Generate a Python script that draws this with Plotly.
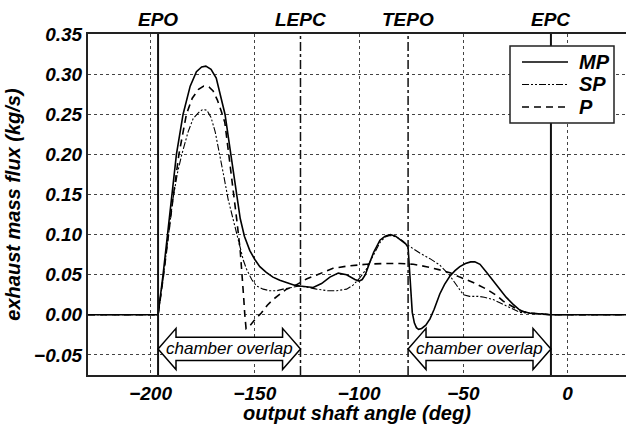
import plotly.graph_objects as go

# Event angles (deg) and their labels
event_names = ["EPO", "LEPC", "TEPO", "EPC"]
event_angles = [-196.4, -128.1, -76.5, -8.0]
event_dash = ["solid", "dashdot", "dashdot", "solid"]
event_width = [2.0, 1.5, 1.5, 2.0]

# Exhaust mass flux, MP configuration
mp_angle = [-230, -196.4, -194, -192, -190, -187.6, -184.4, -181, -178, -175.5, -173.5,
            -171, -168.5, -166.5, -164.3, -161.5, -159, -157, -155, -152.4, -150, -147.6,
            -144.5, -141.3, -138, -134.8, -131, -128.5, -125, -122, -118, -114, -110, -106,
            -102, -100, -98.5, -97, -95.5, -93, -90, -87.5, -85, -82.5, -80, -77.5, -76.5,
            -76, -75.4, -74.5, -73.5, -72.5, -71.5, -70, -68, -66, -64, -61.3, -59, -56.5,
            -54, -51.7, -49, -46.5, -44.5, -42, -38.9, -35.5, -32.5, -29.5, -26.1, -23.5,
            -21.3, -18, -12, -8, 28]
mp_flux = [0, 0, 0.050, 0.095, 0.144, 0.200, 0.250, 0.285, 0.303, 0.309, 0.310,
           0.306, 0.295, 0.275, 0.250, 0.200, 0.155, 0.120, 0.098, 0.080, 0.069, 0.060,
           0.053, 0.047, 0.043, 0.040, 0.037, 0.036, 0.035, 0.034, 0.039, 0.047, 0.052, 0.050,
           0.044, 0.042, 0.044, 0.050, 0.061, 0.078, 0.093, 0.098, 0.100, 0.098, 0.093, 0.088, 0.084,
           0.060, 0.030, 0.003, -0.010, -0.016, -0.018, -0.017, -0.013, -0.005, 0.007, 0.026, 0.038, 0.048,
           0.055, 0.060, 0.064, 0.066, 0.066, 0.063, 0.053, 0.042, 0.032, 0.022, 0.013, 0.007,
           0.004, 0.002, 0.001, 0.0, 0]

# Exhaust mass flux, SP configuration
sp_angle = [-230, -196.4, -194, -191.5, -189.3, -187, -185, -182, -179.5, -177, -175, -173,
            -171, -169, -166.8, -164.8, -162.8, -160, -157.2, -155.5, -154, -151.5, -149.2,
            -146, -142.8, -139.5, -136.5, -132, -128.5, -124, -120.4, -115, -110.8, -106,
            -102.9, -100, -96.5, -93, -90, -87.5, -85.2, -82, -79, -77.3, -74, -70.9, -66,
            -61.3, -56.8, -53, -50, -47, -43, -40, -35.7, -32.5, -29.3, -26, -22.9, -18, -12,
            -8, 28]
sp_flux = [0, 0, 0.045, 0.100, 0.144, 0.178, 0.200, 0.228, 0.245, 0.252, 0.256, 0.255,
           0.246, 0.228, 0.200, 0.172, 0.144, 0.115, 0.086, 0.068, 0.057, 0.044, 0.036,
           0.032, 0.030, 0.030, 0.032, 0.034, 0.036, 0.034, 0.032, 0.030, 0.030, 0.032,
           0.037, 0.045, 0.057, 0.075, 0.090, 0.097, 0.099, 0.097, 0.092, 0.088, 0.082, 0.077, 0.070,
           0.062, 0.050, 0.036, 0.025, 0.023, 0.023, 0.022, 0.019, 0.015, 0.011, 0.006, 0.003, 0.002, 0.0015,
           0, 0]

# Exhaust mass flux, P configuration
p_angle = [-230, -196.4, -194, -192, -189.3, -186.4, -182.8, -180, -177, -174.5, -172, -170,
           -168, -166, -164.4, -162.5, -160, -158.5, -157, -156, -155.3, -154.8, -154.2,
           -152.5, -150, -147, -144, -141.3, -138, -134.8, -131, -128.5, -125, -120, -112.5,
           -105, -96.5, -88, -80.5, -74, -67.7, -61.3, -56, -51.7, -45, -38.9, -34, -30.9,
           -26, -22.9, -18, -12, -8, 28]
p_flux = [0, 0, 0.045, 0.090, 0.144, 0.200, 0.250, 0.270, 0.281, 0.285, 0.284, 0.279,
          0.268, 0.253, 0.240, 0.200, 0.150, 0.115, 0.080, 0.050, 0.020, 0.000, -0.017,
          -0.014, -0.006, 0.002, 0.012, 0.019, 0.026, 0.032, 0.036, 0.040, 0.045, 0.050, 0.058,
          0.061, 0.063, 0.064, 0.064, 0.063, 0.060, 0.056, 0.052, 0.047, 0.040, 0.032, 0.024, 0.017,
          0.009, 0.005, 0.002, 0.001, 0, 0]

x_ticks = [-200, -150, -100, -50, 0]
x_range = [-230, 28]
y_range = [-0.075, 0.35]

# Chamber overlap spans (between event indices)
overlap_spans = [(0, 1), (2, 3)]
overlap_text = "chamber overlap"

FONT = "Liberation Sans"
bi = dict(family=FONT, color="black", weight="bold", style="italic")

series = [
    ("MP", mp_angle, mp_flux, dict(color="black", width=1.6, dash="solid")),
    ("SP", sp_angle, sp_flux, dict(color="black", width=1.1, dash="7px,2px,2px,2px,2px,2px")),
    ("P", p_angle, p_flux, dict(color="black", width=1.6, dash="7px,5px")),
]

fig = go.Figure()
for name, xs, ys, ln in series:
    fig.add_trace(go.Scatter(x=xs, y=ys, name=name, mode="lines", line=ln,
                             showlegend=False))

# Event marker lines and their labels above the plot
for name, ang, dsh, w in zip(event_names, event_angles, event_dash, event_width):
    fig.add_shape(type="line", xref="x", yref="paper", x0=ang, x1=ang, y0=0, y1=1,
                  line=dict(color="#111", width=w, dash=dsh))
    fig.add_annotation(x=ang, y=1, xref="x", yref="paper", yanchor="bottom", yshift=2,
                       text=name, showarrow=False, font=dict(size=19, **bi))

# Double-headed block arrows marking chamber overlap
mid, half_body, half_head, head_len = -0.0425, 0.0145, 0.0256, 8.6
for i0, i1 in overlap_spans:
    a, b = event_angles[i0], event_angles[i1]
    pts = [(a, mid), (a + head_len, mid + half_head), (a + head_len, mid + half_body),
           (b - head_len, mid + half_body), (b - head_len, mid + half_head), (b, mid),
           (b - head_len, mid - half_head), (b - head_len, mid - half_body),
           (a + head_len, mid - half_body), (a + head_len, mid - half_head)]
    path = "M " + " L ".join(f"{px},{py}" for px, py in pts) + " Z"
    fig.add_shape(type="path", path=path, xref="x", yref="y", layer="above",
                  fillcolor="white", line=dict(color="black", width=1.5))
    fig.add_annotation(x=(a + b) / 2, y=mid, xref="x", yref="y", text=overlap_text,
                       showarrow=False,
                       font=dict(family=FONT, size=17, color="black", style="italic"))

# Boxed key in the upper right corner (paper coordinates of the plot area)
box_x0, box_x1, box_y0, box_y1 = 0.7844, 0.9777, 0.739, 0.9648
key_line_x0, key_line_x1, key_text_x = 0.8067, 0.8922, 0.9089
key_rows = [0.9179, 0.852, 0.786]
fig.add_shape(type="rect", xref="paper", yref="paper", x0=box_x0, x1=box_x1,
              y0=box_y0, y1=box_y1, layer="above", fillcolor="white",
              line=dict(color="#222", width=1.5))
for (name, _, _, ln), ry in zip(series, key_rows):
    fig.add_shape(type="line", xref="paper", yref="paper", x0=key_line_x0, x1=key_line_x1,
                  y0=ry, y1=ry, layer="above", line=ln)
    fig.add_annotation(x=key_text_x, y=ry, xref="paper", yref="paper", xanchor="left",
                       yanchor="middle", text=name, showarrow=False,
                       font=dict(size=20, **bi))

fig.update_xaxes(range=x_range, tickvals=x_ticks, showgrid=True, gridcolor="#444",
                 griddash="dot", gridwidth=1, zeroline=False, showline=True, mirror=True,
                 linecolor="#222", linewidth=2, tickfont=dict(size=19, **bi),
                 ticks="",
                 title=dict(text="output shaft angle (deg)", font=dict(size=20, **bi),
                            standoff=7))
fig.update_yaxes(range=y_range, tick0=-0.05, dtick=0.05, tickformat=".2f", showgrid=True,
                 gridcolor="#444", griddash="dot", gridwidth=1, zeroline=False,
                 showline=True, mirror=False, linecolor="#222", linewidth=2,
                 tickfont=dict(size=19, **bi), ticks="",
                 title=dict(text="exhaust mass flux (kg/s)", font=dict(size=20, **bi),
                            standoff=8))

fig.update_layout(
    width=626, height=424,
    margin=dict(l=88, r=0, t=34, b=49),
    plot_bgcolor="white", paper_bgcolor="white",
    showlegend=False,
)

fig.write_html("out.html")
